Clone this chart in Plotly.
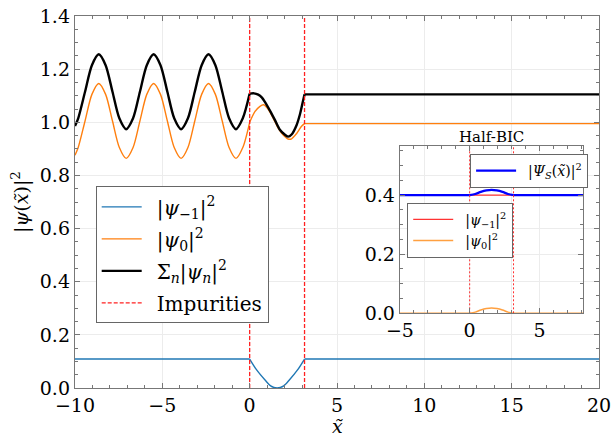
import plotly.graph_objects as go

# ---------------- data ----------------
impurities = [0.0, 3.1416]

# main panel, region x < 0 (oscillating part)
x_left = [-10.0, -9.817, -9.425, -9.032, -8.639, -8.247, -7.854, -7.461, -7.069,
          -6.676, -6.283, -5.890, -5.498, -5.105, -4.712, -4.320, -3.927, -3.534,
          -3.142, -2.749, -2.356, -1.963, -1.571, -1.178, -0.785, -0.393, 0.0]
psi0_left = [0.876, 0.905, 1.005, 1.105, 1.146, 1.105, 1.005, 0.905, 0.864,
             0.905, 1.005, 1.105, 1.146, 1.105, 1.005, 0.905, 0.864, 0.905,
             1.005, 1.105, 1.146, 1.105, 1.005, 0.905, 0.864, 0.905, 1.000]
total_left = [0.986, 1.015, 1.115, 1.215, 1.256, 1.215, 1.115, 1.015, 0.974,
              1.015, 1.115, 1.215, 1.256, 1.215, 1.115, 1.015, 0.974, 1.015,
              1.115, 1.215, 1.256, 1.215, 1.115, 1.015, 0.974, 1.015, 1.108]
x_left_flat = [-10.0, 0.0]
psim1_left = [0.109, 0.109]

# main panel, between the impurities
x_mid_psi0 = [0.0, 0.30, 0.59, 0.80, 1.07, 1.35, 1.64, 1.92, 2.20, 2.40, 2.69, 2.97, 3.1416]
psi0_mid = [1.000, 1.040, 1.060, 1.066, 1.048, 1.015, 0.977, 0.952, 0.937, 0.938, 0.958, 0.985, 0.995]
x_mid_total = [0.0, 0.25, 0.49, 0.69, 0.88, 1.16, 1.45, 1.73, 2.02, 2.20, 2.40, 2.69, 2.88, 3.07, 3.1416]
total_mid = [1.108, 1.109, 1.104, 1.094, 1.076, 1.044, 1.008, 0.972, 0.953, 0.946, 0.954, 0.990, 1.030, 1.085, 1.105]
x_mid_psim1 = [0.0, 0.40, 0.88, 1.20, 1.57, 1.95, 2.27, 2.74, 3.1416]
psim1_mid = [0.109, 0.068, 0.030, 0.008, 0.000, 0.008, 0.030, 0.068, 0.109]

# main panel, region x > pi
x_right = [3.1416, 20.0]
psi0_right = [0.995, 0.995]
total_right = [1.105, 1.105]
psim1_right = [0.109, 0.109]

# inset (Half-BIC)
x_in_flat_l = [-5.0, 0.0]
x_in_flat_r = [3.1416, 8.14]
x_in_mid = [0.0, 0.40, 0.80, 1.20, 1.57, 1.95, 2.35, 2.75, 3.1416]
in_psim1 = [0.400, 0.400]
in_psi0_flat = [0.0, 0.0]
in_psi0_mid = [0.0, 0.004, 0.011, 0.016, 0.018, 0.016, 0.011, 0.004, 0.0]
in_total_flat = [0.400, 0.400]
in_total_mid = [0.400, 0.404, 0.411, 0.416, 0.418, 0.416, 0.411, 0.404, 0.400]

main_xrange = [-10, 20]
main_yrange = [0, 1.4]
inset_xrange = [-5, 8.14]
inset_yrange = [0, 0.567]


def join(*segs):
    xs, ys = [], []
    for i, (sx, sy) in enumerate(segs):
        if i:
            xs.append(None)
            ys.append(None)
        xs += list(sx)
        ys += list(sy)
    return xs, ys


def vlines(xs, y0, y1):
    vx, vy = [], []
    for i, x in enumerate(xs):
        if i:
            vx.append(None)
            vy.append(None)
        vx += [x, x]
        vy += [y0, y1]
    return vx, vy


FONT = "DejaVu Serif"
fig = go.Figure()

# ---- main traces ----
bx, by = join((x_left_flat, psim1_left), (x_mid_psim1, psim1_mid), (x_right, psim1_right))
fig.add_trace(go.Scatter(x=bx, y=by, mode="lines", line=dict(color="#1f77b4", width=1.4, shape="spline", smoothing=0.8),
                         name="\u2002|<i>ψ</i><sub>−1</sub>|<sup>2</sup>", legendgroup="a", legend="legend"))
ox, oy = join((x_left, psi0_left), (x_mid_psi0, psi0_mid), (x_right, psi0_right))
fig.add_trace(go.Scatter(x=ox, y=oy, mode="lines", line=dict(color="#ff7f0e", width=1.4, shape="spline", smoothing=0.8),
                         name="\u2002|<i>ψ</i><sub>0</sub>|<sup>2</sup>", legendgroup="b", legend="legend"))
kx, ky = join((x_left, total_left), (x_mid_total, total_mid), (x_right, total_right))
fig.add_trace(go.Scatter(x=kx, y=ky, mode="lines", line=dict(color="black", width=2.4, shape="spline", smoothing=0.8),
                         name="\u2002Σ<sub><i>n</i></sub>|<i>ψ</i><sub><i>n</i></sub>|<sup>2</sup>", legendgroup="c", legend="legend"))
ix, iy = vlines(impurities, main_yrange[0], main_yrange[1])
fig.add_trace(go.Scatter(x=ix, y=iy, mode="lines", line=dict(color="#ff2020", width=1.3, dash="4px,2px"),
                         name="\u2002Impurities", legendgroup="d", legend="legend"))

# ---- inset traces ----
fig.add_trace(go.Scatter(x=x_in_flat_l + [None] + x_in_flat_r, y=in_psim1 + [None] + in_psim1,
                         xaxis="x2", yaxis="y2", mode="lines", line=dict(color="#ff3333", width=1.3),
                         name="\u2002|<i>ψ</i><sub>−1</sub>|<sup>2</sup>", legend="legend3"))
fig.add_trace(go.Scatter(x=[x_in_mid[0], x_in_mid[-1]], y=in_psim1, xaxis="x2", yaxis="y2", mode="lines",
                         line=dict(color="#ff3333", width=1.3), showlegend=False))
pox, poy = join((x_in_flat_l, in_psi0_flat), (x_in_mid, in_psi0_mid), (x_in_flat_r, in_psi0_flat))
fig.add_trace(go.Scatter(x=pox, y=poy, xaxis="x2", yaxis="y2", mode="lines",
                         line=dict(color="#ffa040", width=1.5, shape="spline", smoothing=0.8),
                         name="\u2002|<i>ψ</i><sub>0</sub>|<sup>2</sup>", legend="legend3"))
tbx, tby = join((x_in_flat_l, in_total_flat), (x_in_mid, in_total_mid), (x_in_flat_r, in_total_flat))
fig.add_trace(go.Scatter(x=tbx, y=tby, xaxis="x2", yaxis="y2", mode="lines",
                         line=dict(color="#0000ff", width=2.2, shape="spline", smoothing=0.8),
                         name="\u2002|<i>Ψ</i><sub><i>S</i></sub>(<i>x\u0303</i>)|<sup>2</sup>", legend="legend2"))
jx, jy = vlines(impurities, inset_yrange[0], inset_yrange[1])
fig.add_trace(go.Scatter(x=jx, y=jy, xaxis="x2", yaxis="y2", mode="lines",
                         line=dict(color="#ff3030", width=1, dash="2px,2px"), showlegend=False))

axis_common = dict(showline=True, linecolor="#777777", linewidth=1.4, mirror="allticks",
                   ticks="inside", ticklen=5, tickwidth=1, tickcolor="#777777",
                   showgrid=True, gridcolor="#ececec", gridwidth=1, zeroline=False, automargin=False,
                   tickfont=dict(family=FONT, size=19, color="black"))

fig.update_layout(
    width=614, height=437,
    margin=dict(l=75, r=15, t=16, b=49, autoexpand=False),
    paper_bgcolor="white", plot_bgcolor="rgba(0,0,0,0)",
    font=dict(family=FONT, size=19, color="black"),
    xaxis=dict(domain=[0, 1], range=main_xrange, dtick=5, anchor="y",
               minor=dict(dtick=1, ticks="inside", ticklen=3, tickcolor="#777777", showgrid=False),
               **axis_common),
    yaxis=dict(domain=[0, 1], range=main_yrange, dtick=0.2, tickformat=".1f", anchor="x",
               minor=dict(dtick=0.05, ticks="inside", ticklen=3, tickcolor="#777777", showgrid=False),
               **axis_common),
    xaxis2=dict(domain=[0.620, 0.970], range=inset_xrange, dtick=5, anchor="y2",
                minor=dict(dtick=1, ticks="inside", ticklen=3, tickcolor="#777777", showgrid=False),
                **axis_common),
    yaxis2=dict(domain=[0.2008, 0.651], range=inset_yrange, dtick=0.2, tickformat=".1f", anchor="x2",
                minor=dict(dtick=0.05, ticks="inside", ticklen=3, tickcolor="#777777", showgrid=False),
                **axis_common),
    legend=dict(x=0.0395, y=0.542, xanchor="left", yanchor="top", bgcolor="white",
                bordercolor="#666666", borderwidth=1, font=dict(family=FONT, size=20),
                tracegroupgap=3, itemwidth=40),
    legend2=dict(x=0.754, y=0.629, xanchor="left", yanchor="top", bgcolor="white",
                 bordercolor="#666666", borderwidth=1, font=dict(family=FONT, size=14), itemwidth=40),
    legend3=dict(x=0.634, y=0.498, xanchor="left", yanchor="top", bgcolor="white",
                 bordercolor="#666666", borderwidth=1, font=dict(family=FONT, size=14), itemwidth=40),
    showlegend=True,
    annotations=[
        dict(text="<i>x\u0303</i>", xref="paper", yref="paper", x=0.5, y=-0.103,
             xanchor="center", yanchor="middle", showarrow=False, font=dict(family=FONT, size=19)),
        dict(text="|<i>ψ</i>(<i>x\u0303</i>)|<sup>2</sup>", xref="paper", yref="paper", x=-0.105, y=0.5,
             xanchor="center", yanchor="middle", textangle=-90, showarrow=False, font=dict(family=FONT, size=19)),
        dict(text="Half-BIC", xref="paper", yref="paper", x=0.795, y=0.674,
             xanchor="center", yanchor="middle", showarrow=False, font=dict(family=FONT, size=15)),
    ],
)

fig.write_html("out.html")
